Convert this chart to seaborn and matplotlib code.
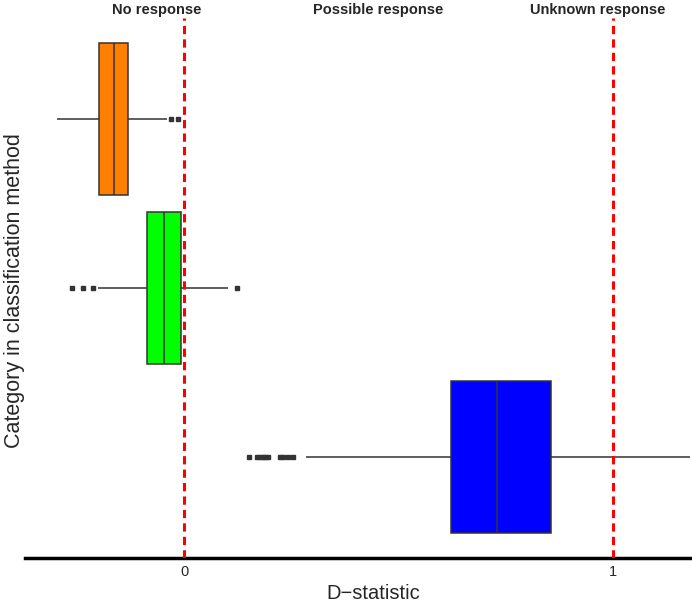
import seaborn as sns
import pandas as pd
import matplotlib
matplotlib.use('Agg')
from matplotlib import pyplot as plt

# values (D-statistic)
categories = ["Category A", "Category B", "Category C"]
box_colors = ["#FF7F00", "#00FF00", "#0000FF"]

low_outliers = [[], [-0.262, -0.237, -0.212],
                [0.152, 0.170, 0.177, 0.184, 0.189, 0.196, 0.224, 0.231, 0.242, 0.254]]
whisker_low = [-0.296, -0.202, 0.285]
q1 = [-0.198, -0.086, 0.622]
median = [-0.165, -0.047, 0.730]
q3 = [-0.131, -0.008, 0.855]
whisker_high = [-0.040, 0.102, 1.20]
high_outliers = [[-0.030, -0.015], [0.122], []]

ref_lines = [0, 1]
ref_labels = ["No response", "Possible response", "Unknown response"]
ref_label_x = [-0.065, 0.452, 0.965]


def sample_for(i):
    # quartile values repeated so the box statistics land on the read values
    return (low_outliers[i] + [whisker_low[i]] + [q1[i]] * 20 + [median[i]] * 21
            + [q3[i]] * 20 + [whisker_high[i]] + high_outliers[i])


rows = []
for i, cat in enumerate(categories):
    for v in sample_for(i):
        rows.append({"category": cat, "value": v})
df = pd.DataFrame(rows)

sns.set_style("white")
plt.rcParams['font.family'] = ['Liberation Sans', 'DejaVu Sans']

fig = plt.figure(figsize=(6.92, 6.03), dpi=100)
ax = fig.add_axes([25 / 692, 45 / 603, 665 / 692, 540 / 603])

ax.grid(axis='y', color='#dddddd', linewidth=1)
ax.set_axisbelow(True)

sns.boxplot(data=df, x="value", y="category", hue="category", order=categories,
            hue_order=categories, palette=dict(zip(categories, box_colors)),
            saturation=1, width=0.9, whis=1.5, linecolor="#333333", linewidth=1.1,
            fliersize=3, showcaps=False, legend=False,
            flierprops=dict(marker='s', markerfacecolor='#333333', markeredgecolor='#333333'),
            ax=ax)

for xv in ref_lines:
    ax.axvline(xv, color='red', linestyle=(0, (2.7, 1.7)), linewidth=2.2, zorder=5)

for x, lab in zip(ref_label_x, ref_labels):
    ax.annotate(lab, xy=(x, 1.0), xycoords=('data', 'axes fraction'),
                xytext=(0, 6), textcoords='offset points', ha='center', va='center',
                fontsize=10.5, fontweight='bold', annotation_clip=False)

ax.set_xlim(-0.3716, 1.1796)
ax.set_ylim(2.6, -0.6)
ax.set_xticks([0, 1])
ax.set_xticklabels(["0", "1"])
ax.tick_params(axis='x', length=3, width=1, color='black', labelsize=10.5, pad=2)
ax.tick_params(axis='y', length=0, labelleft=False)

for side in ['top', 'right', 'left']:
    ax.spines[side].set_visible(False)
ax.spines['bottom'].set_linewidth(2.5)
ax.spines['bottom'].set_color('black')

ax.set_xlabel("D\u2212statistic", fontsize=14.5)
ax.xaxis.set_label_coords(348 / 665, -0.049)
ax.set_ylabel("Category in classification method", fontsize=15.5)
ax.yaxis.set_label_coords(0.0, 0.496)

fig.savefig("out.png", dpi=100)
